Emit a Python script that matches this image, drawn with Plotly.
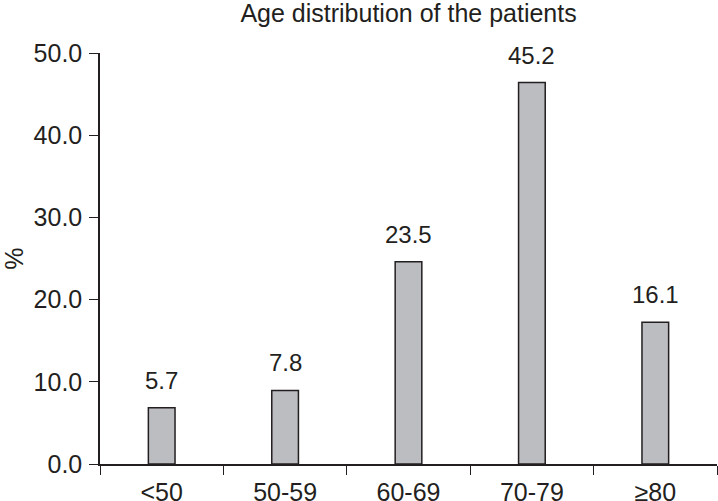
import plotly.graph_objects as go

categories = ["<50", "50-59", "60-69", "70-79", "≥80"]
bar_heights = [6.85, 8.95, 24.6, 46.4, 17.25]
value_labels = ["5.7", "7.8", "23.5", "45.2", "16.1"]
y_ticks = [0, 10, 20, 30, 40, 50]

INK = "#231f20"
FONT = "Liberation Sans, Arial, sans-serif"

fig = go.Figure()
fig.add_trace(go.Bar(
    x=categories, y=bar_heights, width=0.216,
    marker=dict(color="#bcbdc1", line=dict(color=INK, width=1.5)),
    hoverinfo="skip",
))

for c, h, t in zip(categories, bar_heights, value_labels):
    fig.add_annotation(x=c, y=h, text=t, showarrow=False, yanchor="bottom",
                       yshift=12, font=dict(family=FONT, size=24, color=INK))

fig.update_layout(
    width=718, height=501,
    margin=dict(l=100, r=1, t=53, b=37, autoexpand=False),
    paper_bgcolor="white", plot_bgcolor="white",
    showlegend=False,
    title=dict(text="Age distribution of the patients", x=0.569, xanchor="center",
               y=0.974, yanchor="middle",
               font=dict(family=FONT, size=25, color=INK)),
    font=dict(family=FONT, color=INK),
)
fig.update_xaxes(
    type="category", range=[-0.5, 4.5], showgrid=False, automargin=False,
    showline=True, linecolor=INK, linewidth=1.5,
    ticks="outside", ticklen=9, tickwidth=1.2, tickcolor=INK,
    tickson="boundaries", ticklabelstandoff=5,
    tickfont=dict(family=FONT, size=25, color=INK),
)
fig.update_yaxes(
    range=[0, 50], tickvals=y_ticks, tickformat=".1f", showgrid=False,
    zeroline=False, automargin=False,
    showline=True, linecolor=INK, linewidth=1.5,
    ticks="outside", ticklen=9, tickwidth=1.2, tickcolor=INK,
    ticklabelstandoff=2,
    tickfont=dict(family=FONT, size=25, color=INK),
    title=dict(text="%", font=dict(family=FONT, size=25, color=INK), standoff=12),
)

fig.write_html("out.html", config={"displayModeBar": False},
               post_script="document.body.style.margin='0';")
